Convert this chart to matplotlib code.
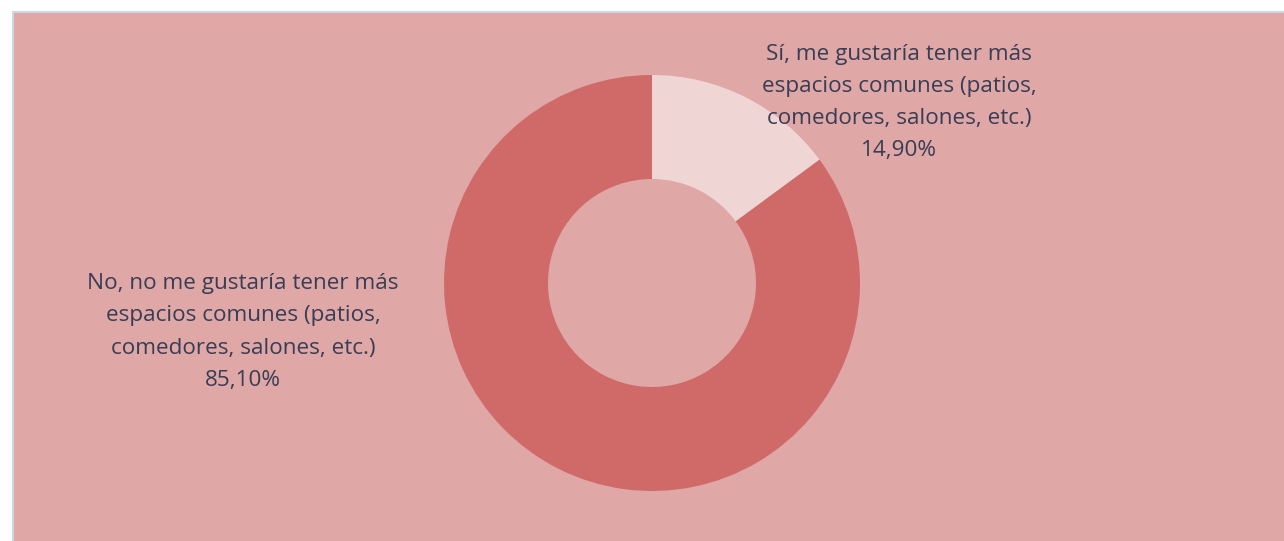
import matplotlib.pyplot as plt
from matplotlib.patches import Rectangle

# Data
labels = ["Sí, me gustaría tener más\nespacios comunes (patios,\ncomedores, salones, etc.)",
          "No, no me gustaría tener más\nespacios comunes (patios,\ncomedores, salones, etc.)"]
values = [14.90, 85.10]
value_labels = ["14,90%", "85,10%"]
colors = ["#F0D5D5", "#D06A68"]

W, H = 1284, 541
fig = plt.figure(figsize=(W / 100, H / 100), dpi=100, facecolor="white")
ax = fig.add_axes([0, 0, 1, 1])
ax.set_xlim(0, W)
ax.set_ylim(0, H)
ax.set_aspect("equal")
ax.axis("off")

# pink panel with thin border
ax.add_patch(Rectangle((13, -5), W, H - 12 + 5, facecolor="#DFA7A6",
                       edgecolor="#CDD5E6", linewidth=1.5, zorder=0))

cx, cy = 652, H - 283
ax.pie(values, colors=colors, startangle=90, counterclock=False,
       radius=208, center=(cx, cy), frame=True,
       wedgeprops=dict(width=104, linewidth=0))
ax.set_xlim(0, W)
ax.set_ylim(0, H)
ax.axis("off")

txt = dict(ha="center", va="center", fontsize=16.2, color="#373D55",
           family="Open Sans", linespacing=1.7)
ax.text(899, H - 102.5, labels[0] + "\n" + value_labels[0], **txt)
ax.text(243, H - 332, labels[1] + "\n" + value_labels[1], **txt)

fig.savefig("out.png", dpi=100, facecolor="white")
